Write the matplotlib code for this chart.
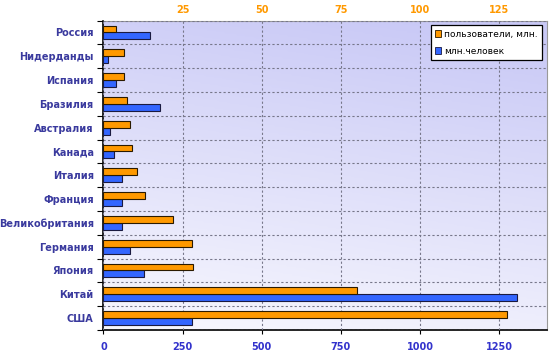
import numpy as np
import matplotlib
matplotlib.use('Agg')
import matplotlib.pyplot as plt
from matplotlib.colors import LinearSegmentedColormap
from matplotlib.patches import Patch

# ── Data (top → bottom) ───────────────────────────────────────────────────────
countries = ['Россия', 'Нидерданды', 'Испания', 'Бразилия', 'Австралия',
             'Канада', 'Италия', 'Франция', 'Великобритания', 'Германия',
             'Япония', 'Китай', 'США']
users_mln = [3.9, 6.6, 6.6, 7.6, 8.5, 8.9, 10.5, 13.2, 21.9, 28.1, 28.4, 80.1, 127.4]
population = [147, 16, 40, 178, 20, 32, 58, 60, 60, 84, 127, 1305, 281]

bottom_ticks = [0, 250, 500, 750, 1000, 1250]
top_ticks = [25, 50, 75, 100, 125]

ORANGE = '#ff9900'
BLUE = '#3366ff'
LABEL = '#3a3a9e'

plt.rcParams['font.family'] = 'DejaVu Sans'

fig = plt.figure(figsize=(5.5, 3.54), dpi=100)
ax = fig.add_axes([0.188, 0.068, 0.806, 0.874])

n = len(countries)
y = np.arange(n)
h = 0.29

# ── Gradient background ──────────────────────────────────────────────────────
xx, yy = np.meshgrid(np.linspace(0, 1, 200), np.linspace(0, 1, 200))
grad = 0.85 * yy + 0.2 * xx
cmap = LinearSegmentedColormap.from_list('bg', ['#f8f8fe', '#c9c9f6'])
ax.imshow(grad, extent=[0, 1, 0, 1], origin='lower', transform=ax.transAxes,
          cmap=cmap, aspect='auto', zorder=0, vmin=0, vmax=1.0)

# ── Blue bars (bottom axis) ──────────────────────────────────────────────────
ax.barh(y + h / 2, population, height=h, color=BLUE, edgecolor='#1a1a40',
        linewidth=0.8, zorder=3)
ax.set_xlim(0, 1400)
ax.set_ylim(n - 0.5, -0.5)

ax.set_xticks(bottom_ticks)
ax.set_yticks(y)
ax.set_yticklabels(countries)
ax.set_yticks(np.arange(n + 1) - 0.5, minor=True)
ax.tick_params(axis='y', which='major', length=0, pad=7, labelsize=7,
               labelcolor=LABEL)
for lbl in ax.get_yticklabels():
    lbl.set_fontweight('bold')
ax.tick_params(axis='y', which='minor', length=4, width=0.8, direction='out')
ax.tick_params(axis='x', which='major', length=3, width=0.8, pad=6,
               labelsize=7, labelcolor='#3333cc')
for lbl in ax.get_xticklabels():
    lbl.set_fontweight('bold')

ax.grid(which='minor', axis='y', color='#77778a', linestyle=(0, (2, 2)),
        linewidth=0.8, zorder=1)
ax.grid(which='major', axis='x', color='#77778a', linestyle=(0, (2, 2)),
        linewidth=0.8, zorder=1)
ax.set_axisbelow(False)

ax.spines['left'].set_color('black')
ax.spines['bottom'].set_color('black')
ax.spines['left'].set_linewidth(1.2)
ax.spines['bottom'].set_linewidth(1.2)
ax.spines['top'].set_color('#999999')
ax.spines['right'].set_color('#999999')

# ── Orange bars (top axis) ───────────────────────────────────────────────────
ax2 = ax.twiny()
ax2.barh(y - h / 2, users_mln, height=h, color=ORANGE, edgecolor='#2a1a00',
         linewidth=0.8, zorder=3)
ax2.set_xlim(0, 140)
ax2.set_ylim(n - 0.5, -0.5)
ax2.set_xticks(top_ticks)
ax2.tick_params(axis='x', length=0, pad=4, labelsize=7, labelcolor=ORANGE)
for lbl in ax2.get_xticklabels():
    lbl.set_fontweight('bold')
for s in ax2.spines.values():
    s.set_visible(False)

# ── Legend ───────────────────────────────────────────────────────────────────
handles = [Patch(facecolor=ORANGE, edgecolor='#2a1a00', linewidth=0.6),
           Patch(facecolor=BLUE, edgecolor='#1a1a40', linewidth=0.6)]
leg = ax2.legend(handles, ['пользователи, млн.', 'млн.человек'],
                 loc='upper right', bbox_to_anchor=(0.99, 0.985),
                 borderaxespad=0, fontsize=6.5, frameon=True, fancybox=False,
                 handlelength=0.7, handleheight=0.7, handletextpad=0.3,
                 labelspacing=0.9, borderpad=0.5)
leg.get_frame().set_edgecolor('black')
leg.get_frame().set_linewidth(0.9)
leg.get_frame().set_facecolor('white')
leg.get_frame().set_alpha(1)
leg.set_zorder(10)

fig.savefig('out.png', dpi=100, facecolor='white')
